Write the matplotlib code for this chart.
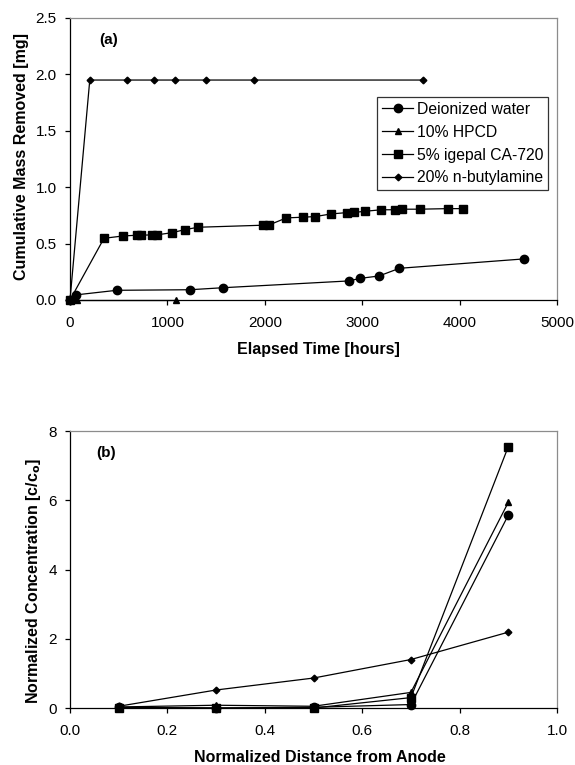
import matplotlib
matplotlib.use("Agg")
import matplotlib.pyplot as plt
from matplotlib.ticker import FormatStrFormatter

plt.rcParams['font.family'] = ['Liberation Sans', 'DejaVu Sans']
plt.rcParams['font.size'] = 11

# ---- Panel (a) data: cumulative mass removed vs elapsed time ----
labels = ["Deionized water", "10% HPCD", "5% igepal CA-720", "20% n-butylamine"]

water_t = [0, 58, 479, 1231, 1573, 2862, 2981, 3173, 3382, 4657]
water_m = [0.0, 0.045, 0.086, 0.091, 0.109, 0.169, 0.192, 0.213, 0.281, 0.364]

hpcd_t = [0, 76, 1084]
hpcd_m = [0.0, 0.0, 0.0]

igepal_t = [0, 349, 547, 684, 732, 845, 896, 1050, 1180, 1317, 1980, 2040,
            2222, 2394, 2520, 2681, 2845, 2913, 3033, 3197, 3333, 3409,
            3590, 3877, 4034]
igepal_m = [0.0, 0.547, 0.568, 0.574, 0.575, 0.577, 0.578, 0.597, 0.624,
            0.645, 0.663, 0.664, 0.728, 0.734, 0.74, 0.763, 0.775, 0.776,
            0.787, 0.80, 0.80, 0.805, 0.805, 0.81, 0.81]

butyl_t = [0, 203, 585, 866, 1080, 1400, 1894, 3629]
butyl_m = [0.0, 1.95, 1.95, 1.95, 1.95, 1.95, 1.95, 1.95]

# ---- Panel (b) data: normalized concentration vs distance from anode ----
dist = [0.1, 0.3, 0.5, 0.7, 0.9]
water_c = [0.02, 0.0, 0.02, 0.10, 5.57]
hpcd_c = [0.03, 0.08, 0.05, 0.45, 5.94]
igepal_c = [0.0, 0.0, 0.0, 0.30, 7.55]
butyl_c = [0.05, 0.52, 0.865, 1.40, 2.19]

fig = plt.figure(figsize=(5.75, 7.65), dpi=100)

W, H = 575.0, 765.0
def axes_px(l, t, r, b):
    return fig.add_axes([l / W, 1 - b / H, (r - l) / W, (b - t) / H])

ax1 = axes_px(70, 18, 557, 300)
ax2 = axes_px(70, 431, 557, 708)

styles = [
    dict(marker='o', markersize=6.0),
    dict(marker='^', markersize=5.0),
    dict(marker='s', markersize=5.2),
    dict(marker='D', markersize=3.4),
]
common = dict(color='black', linewidth=0.9, markerfacecolor='black',
              markeredgecolor='black', clip_on=False)

series_a = [(water_t, water_m), (hpcd_t, hpcd_m), (igepal_t, igepal_m),
            (butyl_t, butyl_m)]
for (x, y), st, lab in zip(series_a, styles, labels):
    ax1.plot(x, y, label=lab, **st, **common)

series_b = [water_c, hpcd_c, igepal_c, butyl_c]
for y, st, lab in zip(series_b, styles, labels):
    ax2.plot(dist, y, label=lab, **st, **common)

for ax in (ax1, ax2):
    ax.spines['top'].set_color('#8c8c8c')
    ax.spines['right'].set_color('#8c8c8c')
    ax.spines['left'].set_color('black')
    ax.spines['bottom'].set_color('black')
    for s in ax.spines.values():
        s.set_linewidth(0.9)
    ax.tick_params(direction='out', length=3.6, width=0.9, labelsize=11,
                   colors='black')
    ax.tick_params(axis='x', pad=8)
    ax.tick_params(axis='y', pad=6)

ax1.set_xlim(0, 5000)
ax1.set_ylim(0, 2.5)
ax1.set_xticks([0, 1000, 2000, 3000, 4000, 5000])
ax1.set_yticks([0, 0.5, 1.0, 1.5, 2.0, 2.5])
ax1.yaxis.set_major_formatter(FormatStrFormatter('%.1f'))
ax1.set_xlabel('Elapsed Time [hours]', fontweight='bold', fontsize=11.5)
ax1.set_ylabel('Cumulative Mass Removed [mg]', fontweight='bold', fontsize=11.5)
ax1.xaxis.label.set_va('center')
ax1.yaxis.label.set_va('center')
ax1.xaxis.set_label_coords(0.51, -50 / 282)
ax1.yaxis.set_label_coords(-48 / 487, 0.51)
ax1.text(0.06, 0.922, '(a)', transform=ax1.transAxes, fontweight='bold',
         fontsize=11, ha='left', va='center')

leg = ax1.legend(loc='upper right', bbox_to_anchor=(0.981, 0.719),
                 frameon=True, fancybox=False, shadow=False, fontsize=11.3,
                 handlelength=2.0, handletextpad=0.2, labelspacing=0.5,
                 borderpad=0.3, borderaxespad=0.0)
leg.get_frame().set_edgecolor('black')
leg.get_frame().set_linewidth(0.9)

ax2.set_xlim(0, 1.0)
ax2.set_ylim(0, 8)
ax2.set_xticks([0.0, 0.2, 0.4, 0.6, 0.8, 1.0])
ax2.set_yticks([0, 2, 4, 6, 8])
ax2.xaxis.set_major_formatter(FormatStrFormatter('%.1f'))
ax2.set_xlabel('Normalized Distance from Anode', fontweight='bold', fontsize=11.5)
ax2.set_ylabel('Normalized Concentration [c/c$_\\mathbf{o}$]', fontweight='bold',
               fontsize=11.5)
ax2.xaxis.label.set_va('center')
ax2.yaxis.label.set_va('center')
ax2.xaxis.set_label_coords(0.513, -49 / 277)
ax2.yaxis.set_label_coords(-36 / 487, 0.46)
ax2.text(0.053, 0.92, '(b)', transform=ax2.transAxes, fontweight='bold',
         fontsize=11, ha='left', va='center')

fig.savefig('out.png', dpi=100)
